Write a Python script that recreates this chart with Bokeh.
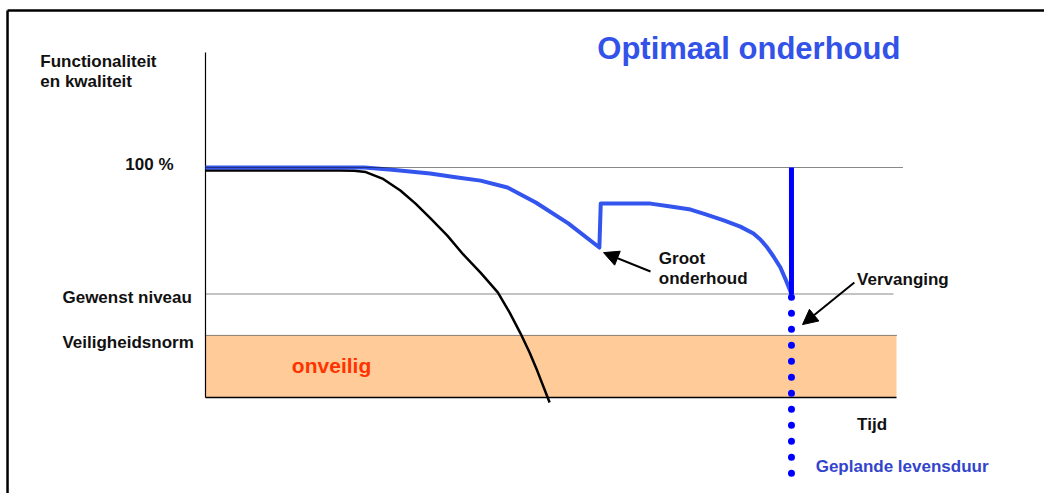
from bokeh.plotting import figure
from bokeh.models import Range1d, Label, Arrow, NormalHead
from bokeh.embed import file_html
from bokeh.resources import INLINE

# ---------------- data (time in % of planned life, quality in %) ----------------
tijd_onderhoud = [0, 23, 27, 32.5, 36.2, 39.8, 43.7, 47.8, 52.5, 57.0, 57.2,
                  64.4, 67.3, 70.2, 72.4, 75.0, 77.4, 79.3, 80.3, 81.3, 82.2, 83.2, 83.9, 84.8]
kwaliteit_onderhoud = [100, 100, 99.0, 97.4, 95.8, 94.3, 91.3, 84.8, 75.7, 65.2, 84.3,
                       84.3, 83.0, 81.7, 79.6, 77.0, 74.3, 71.3, 68.7, 65.2, 61.3, 56.5, 51.7, 45]

tijd_zonder = [0, 19.5, 21.5, 23.2, 25.6, 28.2, 30.4, 32.6, 35.0, 37.3, 39.8, 42.3, 44.0, 45.6, 46.9, 48.0, 49.8]
kwaliteit_zonder = [98.7, 98.7, 98.6, 98.0, 95.2, 90.0, 84.3, 77.8, 70.4, 62.2, 54.3, 45.7, 37.0, 27.8, 19.6, 11.7, -2.2]

niveau_max = 100          # 100 %
niveau_gewenst = 45       # Gewenst niveau
niveau_veilig = 27        # Veiligheidsnorm
tijd_eind = 100           # end of time axis
kwaliteit_top = 150       # top of quality axis
levensduur = 84.8         # geplande levensduur (replacement moment)
levensduur_onder = -33.0  # bottom of the dotted life line
groot_onderhoud = (57.6, 63.0)
vervanging = (86.4, 31.7)

y_labels = ["100 %", "Gewenst niveau", "Veiligheidsnorm"]

# ---------------- figure ----------------
W, H = 1044, 493
p = figure(width=W, height=H, output_backend="svg", toolbar_location=None,
           x_range=Range1d(-29.667, 121.418), y_range=Range1d(-41.739, 172.609),
           x_axis_location=None, y_axis_location=None, min_border=0)
p.grid.visible = False
p.outline_line_color = None
p.background_fill_color = "white"
p.border_fill_color = "white"

# frame border (top & left)
p.segment(x0=-28.65, y0=168.26, x1=p.x_range.end, y1=168.26, line_color="black", line_width=2.5)
p.segment(x0=-28.65, y0=168.26, x1=-28.65, y1=p.y_range.start, line_color="black", line_width=2.5)

# unsafe zone
p.quad(left=0, right=tijd_eind, bottom=0, top=niveau_veilig, fill_color="#ffcc99", line_color=None)

# axes
p.segment(x0=0, y0=0, x1=0, y1=kwaliteit_top, line_color="black", line_width=1.2)
p.segment(x0=0, y0=0, x1=tijd_eind, y1=0, line_color="black", line_width=1.5)

# curves
p.line(tijd_zonder, kwaliteit_zonder, line_color="black", line_width=2.5, line_join="round")
p.line(tijd_onderhoud, kwaliteit_onderhoud, line_color="#3355ee", line_width=4, line_join="round")

# reference dotted lines
dot = dict(line_color="#111111", line_width=1, line_dash="1 1")
p.segment(x0=0, y0=niveau_max, x1=101, y1=niveau_max, **dot)
p.segment(x0=0, y0=niveau_gewenst, x1=99.6, y1=niveau_gewenst, **dot)
p.segment(x0=0, y0=niveau_veilig, x1=tijd_eind, y1=niveau_veilig, **dot)

# replacement
p.segment(x0=levensduur, y0=niveau_gewenst, x1=levensduur, y1=niveau_max, line_color="#0000ff", line_width=5)
p.segment(x0=levensduur, y0=43.6, x1=levensduur, y1=levensduur_onder, line_color="#0000ff",
          line_width=7, line_cap="round", line_dash="0 16")

# arrows
p.add_layout(Arrow(end=NormalHead(size=15, fill_color="black", line_color="black"),
                   x_start=64.4, y_start=54.8, x_end=groot_onderhoud[0], y_end=groot_onderhoud[1],
                   line_color="black", line_width=2))
p.add_layout(Arrow(end=NormalHead(size=15, fill_color="black", line_color="black"),
                   x_start=93.9, y_start=50.0, x_end=vervanging[0], y_end=vervanging[1],
                   line_color="black", line_width=2))

# texts
FONT = "Liberation Sans"

def lab(x, y, text, size="17px", color="#111111"):
    p.add_layout(Label(x=x, y=y, text=text, text_font=FONT, text_font_size=size,
                       text_font_style="bold", text_color=color, text_baseline="alphabetic",
                       text_align="left"))

lab(56.7, 151.8, "Optimaal onderhoud", size="31px", color="#3352e8")
lab(-23.9, 146.3, "Functionaliteit")
lab(-23.9, 137.2, "en kwaliteit")
lab(-11.6, 101.3, y_labels[0])
lab(-20.7, 43.3, y_labels[1])
lab(-20.7, 24.0, y_labels[2])
lab(12.5, 13.9, "onveilig", size="21px", color="#ff3300")
lab(65.6, 60.4, "Groot")
lab(65.6, 51.9, "onderhoud")
lab(94.3, 51.4, "Vervanging")
lab(94.3, -11.6, "Tijd")
lab(88.3, -30.2, "Geplande levensduur", size="17px", color="#3344cc")

open("out.html", "w").write(file_html(p, INLINE))
